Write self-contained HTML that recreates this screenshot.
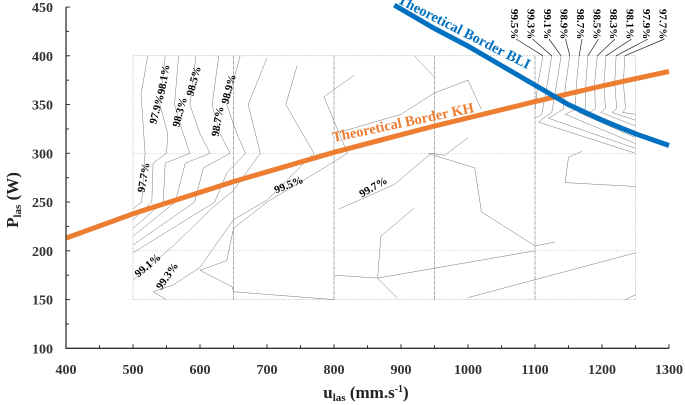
<!DOCTYPE html>
<html><head><meta charset="utf-8"><style>
body{margin:0;background:#fff}
svg{display:block;font-family:"Liberation Serif",serif}
</style></head><body>
<svg id="chart" width="685" height="405" viewBox="0 0 685 405">
<g id="grid"></g>
<g id="contours"></g>
<g id="borders"></g>
<g id="axes"></g>
<g id="labels"></g>
</svg>
<script>
const xTicks=[400,500,600,700,800,900,1000,1100,1200,1300];
const yTicks=[100,150,200,250,300,350,400,450];
const kh=[[400,213],[500,238],[650,271],[800,301],[950,328],[1100,353],[1200,369],[1300,384]];
const bli=[[890,452],[950,428],[1000,410],[1050,390],[1100,370],[1150,350],[1200,334],[1250,320],[1300,308]];
const leftC=[
[[522,400],[512,360],[515,330],[518,300],[513,250],[500,243]],
[[548,400],[540,350],[552,320],[550,300],[530,290],[528,250],[500,232]],
[[568,400],[562,350],[575,320],[585,300],[548,290],[545,250],[500,223]],
[[594,400],[585,350],[600,320],[615,300],[578,290],[563,250],[500,215]],
[[628,400],[618,350],[630,320],[645,300],[605,285],[592,250],[500,206]],
[[660,400],[640,350],[655,320],[668,300],[640,280],[622,250],[500,198]],
[[700,398],[672,350],[690,300],[650,262],[620,245],[560,205],[500,170]],
[[745,390],[728,350],[770,300],[700,252],[650,232],[600,183],[560,165],[530,158],[550,150]],
[[830,380],[785,358],[820,300],[780,283],[700,250],[650,223],[640,190],[600,180],[648,163],[650,158],[800,150]]
];
const midC=[
[[1020,345],[1000,375],[950,362],[900,340],[810,322]],
[[950,378],[920,400]],
[[1000,316],[965,298],[945,300],[890,268],[808,243]],
[[1170,302],[1150,296],[1145,270],[1250,266]],
[[920,244],[870,215],[865,172],[895,151]],
[[940,300],[1010,285],[1020,240],[1100,205],[1130,209]],
[[1100,200],[890,175],[865,172],[800,175]],
[[1250,198],[1000,152]],
[[1250,155],[1235,150]]
];
const rightLabs=["99.5%","99.3%","99.1%","98.9%","98.7%","98.5%","98.3%","98.1%","97.9%","97.7%"];
const rightTops=[1112,1125,1139,1152,1166,1179,1193,1206,1221,1234];
const rightC=[
[[1112,400],[1104,370],[1100,345]],
[[1125,400],[1118,370],[1110,340],[1100,336]],
[[1139,400],[1132,370],[1125,342],[1105,332],[1250,300]],
[[1152,400],[1146,372],[1142,345],[1120,336],[1250,305]],
[[1166,400],[1162,372],[1160,345],[1145,340],[1250,310]],
[[1179,400],[1176,372],[1175,346],[1165,342],[1250,316]],
[[1193,400],[1189,372],[1190,346],[1182,342],[1250,322]],
[[1206,400],[1203,372],[1205,346],[1198,342],[1250,328]],
[[1221,400],[1219,372],[1222,346],[1215,342],[1250,334]],
[[1234,400],[1232,372],[1235,346],[1230,342],[1250,340]]
];
const X=u=>66+(u-400)*0.67;
const Y=p=>348.3-(p-100)*0.975;
const NS="http://www.w3.org/2000/svg";
function mk(t,a,par){const e=document.createElementNS(NS,t);for(const k in a)e.setAttribute(k,a[k]);par.appendChild(e);return e;}
const pts=arr=>arr.map(p=>X(p[0]).toFixed(1)+","+Y(p[1]).toFixed(1)).join(" ");
const G=document.getElementById('grid'),C=document.getElementById('contours'),B=document.getElementById('borders'),A=document.getElementById('axes'),L=document.getElementById('labels');
let r=mk('rect',{x:X(500),y:Y(400),width:X(1250)-X(500),height:Y(150)-Y(400),fill:'none',stroke:'#aaa','stroke-width':0.5,'stroke-dasharray':'2,1'},G);


[650,800,950,1100].forEach(u=>{const l=mk('line',{x1:X(u),x2:X(u),y1:Y(400),y2:Y(150),stroke:'#777','stroke-width':0.6,'stroke-dasharray':'4,1'},G);

});
[300,200].forEach(p=>{const l=mk('line',{x1:X(500),x2:X(1250),y1:Y(p),y2:Y(p),stroke:'#ccc','stroke-width':0.5,'stroke-dasharray':'2,1'},G);

});
[leftC,midC,rightC].forEach(set=>set.forEach(c=>{const e=mk('polyline',{points:pts(c),fill:'none',stroke:'#666','stroke-width':0.45},C);

}));
rightTops.forEach((u,i)=>{const lx=515+i*16.5;
const l=mk('line',{x1:lx+1,y1:39,x2:X(u),y2:Y(400),stroke:'#222','stroke-width':0.7},L);


const t=mk('text',{x:lx,y:5,'font-size':11,'font-weight':'bold',transform:`rotate(90 ${lx-4} 5)`},L);
t.textContent=rightLabs[i];

});
const inl=[["97.7%",147,178,-80],["97.9%",160,110,-75],["98.1%",167,80,-80],["98.3%",183,113,-75],["98.5%",197,82,-75],["98.7%",221,122,-80],["98.9%",232,90,-75],["99.1%",150,268,-40],["99.3%",170,278,-55],["99.5%",290,188,-22],["99.7%",375,190,-30]];
inl.forEach(d=>{const t=mk('text',{x:d[1],y:d[2],'font-size':11,'font-weight':'bold','text-anchor':'middle',transform:`rotate(${d[3]} ${d[1]} ${d[2]})`},L);
t.textContent=d[0];

});
let k=mk('polyline',{points:pts(kh),fill:'none',stroke:'#ED7D31','stroke-width':5},B);


let b=mk('polyline',{points:pts(bli),fill:'none',stroke:'#0070C0','stroke-width':5},B);


let kt=mk('text',{x:404,y:127,'font-size':14.5,'font-weight':'bold',fill:'#ED7D31','text-anchor':'middle',transform:'rotate(-12 404 127)'},L);
kt.textContent='Theoretical Border KH';


let bt=mk('text',{x:462,y:36,'font-size':14.5,'font-weight':'bold',fill:'#0070C0','text-anchor':'middle',transform:'rotate(27 462 36)'},L);
bt.textContent='Theoretical Border BLI';


let ax=mk('polyline',{points:`${X(400)},${Y(450)} ${X(400)},${Y(100)} ${X(1300)},${Y(100)}`,fill:'none',stroke:'#333','stroke-width':1.3},A);


xTicks.forEach(u=>{const t=mk('text',{x:X(u),y:374,'font-size':14,'font-weight':'bold','text-anchor':'middle',fill:'#333'},A);t.textContent=u;


mk('line',{x1:X(u),x2:X(u),y1:Y(100),y2:Y(100)-4,stroke:'#333'},A);
if(u<1300)mk('line',{x1:X(u+50),x2:X(u+50),y1:Y(100),y2:Y(100)-3,stroke:'#333'},A);});
yTicks.forEach(p=>{const t=mk('text',{x:53,y:Y(p)+5,'font-size':14,'font-weight':'bold','text-anchor':'end',fill:'#333'},A);t.textContent=p;


mk('line',{x1:X(400),x2:X(400)+4,y1:Y(p),y2:Y(p),stroke:'#333'},A);
if(p<450)mk('line',{x1:X(400),x2:X(400)+3,y1:Y(p+25),y2:Y(p+25),stroke:'#333'},A);});
let xt=mk('text',{x:366,y:398,'font-size':17,'font-weight':'bold','text-anchor':'middle',fill:'#222'},A);
xt.innerHTML='u<tspan font-size="11" dy="3">las</tspan><tspan dy="-3"> (mm.s</tspan><tspan font-size="10" dy="-6">-1</tspan><tspan dy="6">)</tspan>';


let yt=mk('text',{x:18,y:200,'font-size':17,'font-weight':'bold','text-anchor':'middle',fill:'#222',transform:'rotate(-90 18 200)'},A);
yt.innerHTML='P<tspan font-size="11" dy="3">las</tspan><tspan dy="-3"> (W)</tspan>';


</script>
</body></html>
